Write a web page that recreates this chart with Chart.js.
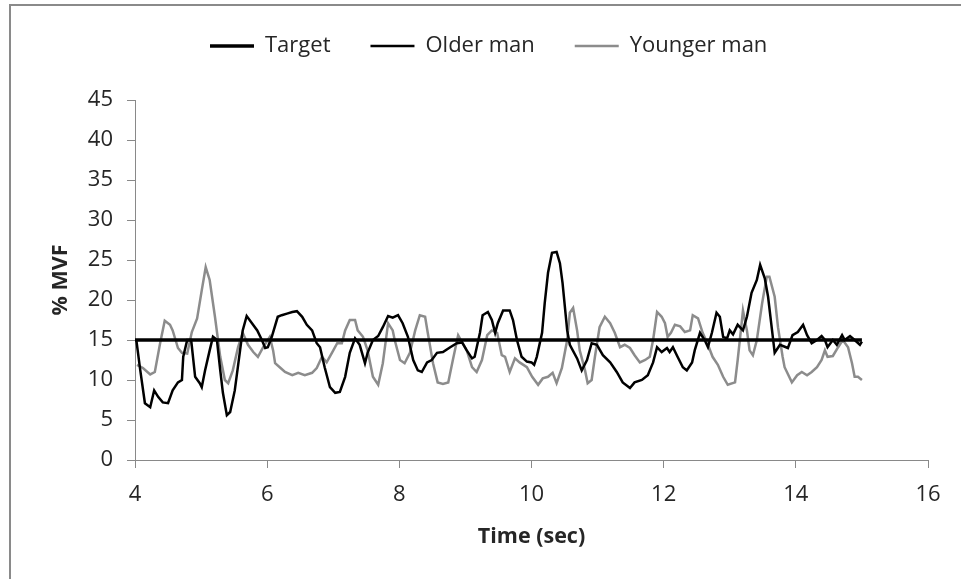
<!DOCTYPE html>
<html>
<head>
<meta charset="utf-8">
<script src="https://cdn.jsdelivr.net/npm/chart.js@4.4.0/dist/chart.umd.min.js"></script>
<style>
    html, body { margin: 0; padding: 0; background: #fff; overflow: hidden; }
    #wrap { position: relative; width: 961px; height: 579px; overflow: hidden; }
    #frame { position: absolute; left: 9px; top: 4px; width: 960px; height: 580px;
             border-left: 2px solid #8a8a8a; border-top: 2px solid #8a8a8a; pointer-events: none; }
</style>
</head>
<body>
<div id="wrap">
    <canvas id="myChart" width="961" height="579"></canvas>
    <div id="frame"></div>
</div>
<script>
// series (time in sec, % MVF)
var targetTime = [4, 15];
var targetMVF = [15, 15];

var olderTime = [
    4.02, 4.08, 4.15, 4.23, 4.29, 4.35, 4.42, 4.50, 4.57, 4.65,
    4.71, 4.73, 4.79, 4.85, 4.91, 4.98, 5.01, 5.06, 5.13, 5.18,
    5.24, 5.29, 5.33, 5.39, 5.44, 5.51, 5.59, 5.63, 5.69, 5.77,
    5.85, 5.92, 5.97, 6.01, 6.07, 6.16, 6.22, 6.30, 6.38, 6.45,
    6.53, 6.60, 6.68, 6.75, 6.80, 6.87, 6.95, 7.03, 7.10, 7.18,
    7.25, 7.33, 7.40, 7.48, 7.52, 7.60, 7.68, 7.75, 7.83, 7.90,
    7.98, 8.05, 8.13, 8.21, 8.28, 8.34, 8.42, 8.49, 8.57, 8.66,
    8.77, 8.87, 8.95, 9.02, 9.10, 9.14, 9.22, 9.26, 9.34, 9.40,
    9.45, 9.49, 9.57, 9.67, 9.72, 9.78, 9.85, 9.93, 10.00, 10.04,
    10.08, 10.16, 10.20, 10.25, 10.31, 10.38, 10.43, 10.47, 10.54, 10.58,
    10.69, 10.76, 10.84, 10.91, 10.99, 11.08, 11.19, 11.29, 11.38, 11.49,
    11.56, 11.67, 11.76, 11.84, 11.90, 11.97, 12.05, 12.09, 12.14, 12.21,
    12.29, 12.35, 12.43, 12.47, 12.55, 12.62, 12.67, 12.73, 12.80, 12.85,
    12.90, 12.96, 13.00, 13.05, 13.12, 13.20, 13.26, 13.33, 13.41, 13.46,
    13.53, 13.58, 13.64, 13.68, 13.76, 13.88, 13.95, 14.03, 14.11, 14.17,
    14.24, 14.32, 14.39, 14.44, 14.48, 14.56, 14.62, 14.70, 14.74, 14.82,
    14.89, 14.97, 15.00
];
var olderMVF = [
    15, 11.2, 7.1, 6.6, 8.7, 7.9, 7.2, 7.1, 8.7, 9.7,
    10, 12.9, 15, 15, 10.4, 9.6, 9.1, 11.2, 13.7, 15.4,
    15, 11.2, 8.4, 5.6, 6, 8.7, 13.7, 16.2, 18, 17.1,
    16.2, 15, 14, 14.1, 15.4, 17.9, 18.1, 18.3, 18.5, 18.6,
    17.9, 16.9, 16.2, 14.6, 14.1, 11.6, 9.1, 8.4, 8.5, 10.4,
    13.4, 15.2, 14.4, 12.1, 13.4, 15, 15.5, 16.6, 18, 17.8,
    18.1, 17.1, 15.4, 12.5, 11.2, 11, 12.2, 12.5, 13.4, 13.5,
    14.1, 14.6, 14.7, 13.7, 12.7, 12.9, 15.9, 18.1, 18.5, 17.5,
    15.9, 17.1, 18.7, 18.7, 17.5, 15, 12.9, 12.3, 12.2, 11.9,
    12.9, 15.9, 19.6, 23.4, 25.9, 26, 24.6, 22.1, 16.2, 14.4,
    12.7, 11.2, 12.5, 14.6, 14.4, 13.1, 12.2, 11, 9.7, 9,
    9.7, 10, 10.6, 12.2, 14.1, 13.5, 14, 13.5, 14.1, 12.9,
    11.6, 11.2, 12.2, 13.7, 15.9, 15, 14.1, 15.9, 18.4, 17.9,
    15.4, 15.2, 16.2, 15.7, 16.9, 16.2, 17.9, 20.9, 22.5, 24.4,
    22.7, 20.4, 16.2, 13.4, 14.4, 14, 15.6, 16, 16.9, 15.6,
    14.6, 15, 15.5, 15, 14.1, 15, 14.4, 15.6, 15, 15.5,
    15, 14.4, 14.8
];

var youngerTime = [
    4.03, 4.12, 4.23, 4.30, 4.38, 4.45, 4.53, 4.57, 4.65, 4.71,
    4.79, 4.86, 4.94, 5.01, 5.07, 5.13, 5.21, 5.29, 5.36, 5.41,
    5.48, 5.56, 5.63, 5.71, 5.79, 5.86, 5.94, 6.04, 6.09, 6.12,
    6.19, 6.27, 6.38, 6.47, 6.57, 6.68, 6.75, 6.83, 6.90, 6.98,
    7.06, 7.13, 7.18, 7.25, 7.33, 7.37, 7.45, 7.52, 7.60, 7.68,
    7.75, 7.83, 7.90, 7.93, 8.01, 8.08, 8.16, 8.24, 8.31, 8.39,
    8.43, 8.51, 8.58, 8.66, 8.74, 8.81, 8.89, 8.95, 9.02, 9.10,
    9.17, 9.25, 9.33, 9.40, 9.48, 9.55, 9.60, 9.67, 9.75, 9.82,
    9.93, 10.01, 10.10, 10.17, 10.25, 10.32, 10.38, 10.46, 10.54, 10.58,
    10.63, 10.69, 10.73, 10.81, 10.85, 10.91, 10.96, 11.03, 11.11, 11.19,
    11.26, 11.34, 11.41, 11.49, 11.56, 11.64, 11.72, 11.79, 11.84, 11.90,
    11.97, 12.02, 12.06, 12.11, 12.17, 12.25, 12.32, 12.40, 12.44, 12.52,
    12.59, 12.67, 12.74, 12.82, 12.90, 12.97, 13.08, 13.12, 13.18, 13.20,
    13.26, 13.30, 13.35, 13.41, 13.49, 13.56, 13.60, 13.68, 13.73, 13.80,
    13.83, 13.94, 14.02, 14.09, 14.17, 14.24, 14.32, 14.39, 14.44, 14.48,
    14.56, 14.64, 14.71, 14.79, 14.85, 14.89, 14.94, 15.00
];
var youngerMVF = [
    11.9, 11.5, 10.7, 11, 14.6, 17.4, 16.9, 16.2, 14, 13.4,
    13.3, 16, 17.7, 21.2, 24.1, 22.5, 17.9, 12.9, 10, 9.6,
    11.2, 14.1, 15.9, 14.4, 13.5, 12.9, 14.1, 15.4, 13.7, 12.1,
    11.6, 11, 10.6, 10.9, 10.6, 10.9, 11.5, 12.9, 12.2, 13.4,
    14.6, 14.6, 16.2, 17.5, 17.5, 16.2, 15.4, 13.7, 10.4, 9.4,
    12.1, 17.1, 16.2, 15, 12.5, 12.1, 13.4, 16.2, 18.1, 17.9,
    15.9, 12.1, 9.7, 9.5, 9.7, 12.5, 15.6, 14.7, 13.7, 11.6,
    11, 12.5, 15.6, 16.2, 15.9, 13.1, 12.9, 11, 12.7, 12.2,
    11.6, 10.4, 9.4, 10.2, 10.4, 10.9, 9.6, 11.5, 15, 18.4,
    19, 16.2, 13.7, 11.2, 9.6, 10, 12.9, 16.6, 17.9, 17.1,
    15.9, 14.1, 14.4, 14, 13.1, 12.2, 12.5, 12.9, 15, 18.5,
    17.9, 17.1, 15.4, 15.9, 16.9, 16.7, 16, 16.2, 18.1, 17.7,
    15.9, 14.4, 12.9, 11.9, 10.4, 9.4, 9.7, 12.5, 17.1, 18.7,
    16.2, 13.7, 13.1, 15, 19.6, 22.9, 22.9, 20.4, 16.6, 12.9,
    11.6, 9.7, 10.6, 11, 10.6, 11, 11.6, 12.5, 13.7, 12.9,
    13, 14.1, 15, 14.1, 12.1, 10.4, 10.4, 10
];

var seriesNames = ["Target", "Older man", "Younger man"];

function toPoints(xs, ys) {
    return xs.map((x, i) => ({ x: x, y: ys[i] }));
}

var textColor = "#262626";
var axisColor = "#898989";
var tickFont = { family: "'Open Sans', sans-serif", size: 22 };
var titleFont = { family: "'Open Sans', sans-serif", size: 21.5, weight: "bold" };

// fixes legend box height and puts it where the picture has it
var legendPlacer = {
    id: "legendPlacer",
    beforeLayout: function(chart) {
        var lg = chart.legend;
        if (lg && !lg._fixedFit) {
            var fit = lg.fit;
            lg.fit = function() {
                fit.call(this);
                this.height = 100;
            };
            lg._fixedFit = true;
        }
    },
    afterLayout: function(chart) {
        chart.legend.left = 170;
        chart.legend.top = -5;
    }
};

var ctx = document.getElementById("myChart").getContext("2d");
var chart = new Chart(ctx, {
    type: "scatter",
    data: {
        datasets: [{
                label: seriesNames[0],
                data: toPoints(targetTime, targetMVF),
                showLine: true,
                borderColor: "#000000",
                backgroundColor: "#000000",
                borderWidth: 3.5,
                pointRadius: 0,
                pointStyle: "line"
            },
            {
                label: seriesNames[1],
                data: toPoints(olderTime, olderMVF),
                showLine: true,
                borderColor: "#000000",
                backgroundColor: "#000000",
                borderWidth: 2.5,
                pointRadius: 0,
                pointStyle: "line"
            },
            {
                label: seriesNames[2],
                data: toPoints(youngerTime, youngerMVF),
                showLine: true,
                borderColor: "#8c8c8c",
                backgroundColor: "#8c8c8c",
                borderWidth: 2.5,
                pointRadius: 0,
                pointStyle: "line"
            }
        ]
    },
    options: {
        responsive: false,
        animation: false,
        layout: { padding: { left: 0, right: 33, top: 0, bottom: 0 } },
        plugins: {
            tooltip: { enabled: false },
            legend: {
                position: "top",
                align: "start",
                labels: {
                    usePointStyle: true,
                    pointStyleWidth: 44,
                    padding: 40,
                    color: textColor,
                    font: { family: "'Open Sans', sans-serif", size: 22 }
                }
            }
        },
        scales: {
            x: {
                type: "linear",
                min: 4,
                max: 16,
                afterFit: scale => { scale.height = 119; },
                ticks: { stepSize: 2, color: textColor, font: tickFont, padding: 14 },
                grid: { display: true, drawOnChartArea: false, drawTicks: true, tickLength: 8, color: axisColor },
                border: { color: axisColor, width: 1 },
                title: { display: true, text: "Time (sec)", color: textColor, font: titleFont, padding: { top: 4, bottom: 29 } }
            },
            y: {
                min: 0,
                max: 45,
                afterFit: scale => { scale.width = 135; },
                ticks: { stepSize: 5, color: textColor, font: tickFont, padding: 14 },
                grid: { display: true, drawOnChartArea: false, drawTicks: true, tickLength: 8, color: axisColor },
                border: { color: axisColor, width: 1 },
                title: { display: true, text: "% MVF", color: textColor, font: titleFont, padding: { top: 48, bottom: 0 } }
            }
        }
    },
    plugins: [legendPlacer]
});
</script>
</body>
</html>
